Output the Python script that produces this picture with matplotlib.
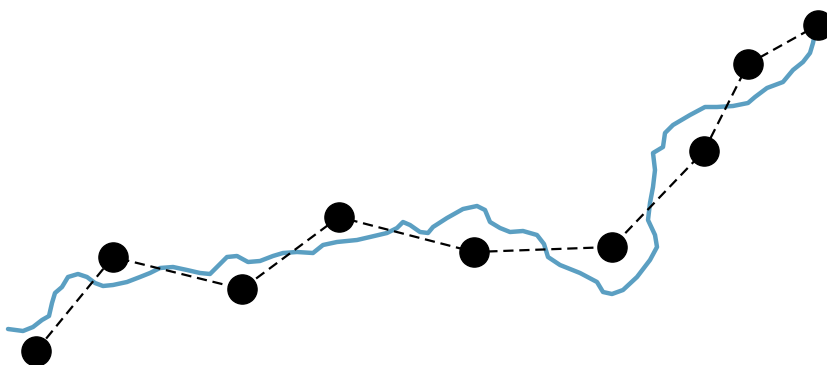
import matplotlib
matplotlib.use("Agg")
import matplotlib.pyplot as plt

# === DATA ===
# smooth track (blue), x along the route, height above the bottom edge
track_x = [8, 23, 33, 42, 49, 52, 55, 62, 68, 78, 87, 95, 103, 113, 127, 140, 150,
           160, 173, 187, 200, 210, 217, 227, 237, 248, 260, 273, 283, 297, 313, 323,
           337, 357, 370, 387, 397, 403, 410, 420, 428, 433, 447, 463, 477, 485, 490,
           500, 510, 523, 537, 544, 548, 560, 580, 597, 603, 612, 623, 637, 650, 657,
           655, 648, 650, 653, 655, 653, 663, 665, 673, 690, 705, 717, 733, 748, 755,
           767, 783, 793, 803, 810, 813, 815]
track_y = [329, 331, 327, 320, 316, 303, 293, 287, 277, 274, 277, 283, 286, 285, 282,
           277, 273, 268, 267, 270, 273, 274, 267, 257, 256, 262, 261, 256, 253, 252,
           253, 245, 242, 240, 237, 233, 228, 222, 225, 232, 233, 227, 218, 209, 206,
           210, 222, 228, 232, 231, 235, 244, 257, 265, 273, 282, 292, 294, 290, 277,
           260, 247, 235, 220, 203, 187, 170, 153, 147, 133, 125, 115, 107, 107, 106,
           103, 97, 88, 82, 70, 62, 53, 43, 33]
track_y = [365 - v for v in track_y]

# sampled points (black)
pts_x = [36, 113, 242, 339, 474, 612, 704, 748, 818]
pts_y = [351, 257, 289, 217, 252, 247, 151, 64, 25]
pts_y = [365 - v for v in pts_y]

# === PLOTTING ===
fig = plt.figure(figsize=(8.27, 3.65), dpi=100)
ax = fig.add_axes([0, 0, 1, 1])
ax.plot(track_x, track_y, color="#5b9fc2", linewidth=3.2, solid_capstyle="round",
        solid_joinstyle="round", zorder=1)
ax.plot(pts_x, pts_y, color="black", linestyle="--", linewidth=1.6,
        dashes=(4.6, 2.6), zorder=2)
ax.plot(pts_x, pts_y, linestyle="none", marker="o", markersize=21,
        color="black", zorder=3)
ax.set_xlim(0, 827)
ax.set_ylim(0, 365)
ax.axis("off")

fig.savefig("out.png", dpi=100)
